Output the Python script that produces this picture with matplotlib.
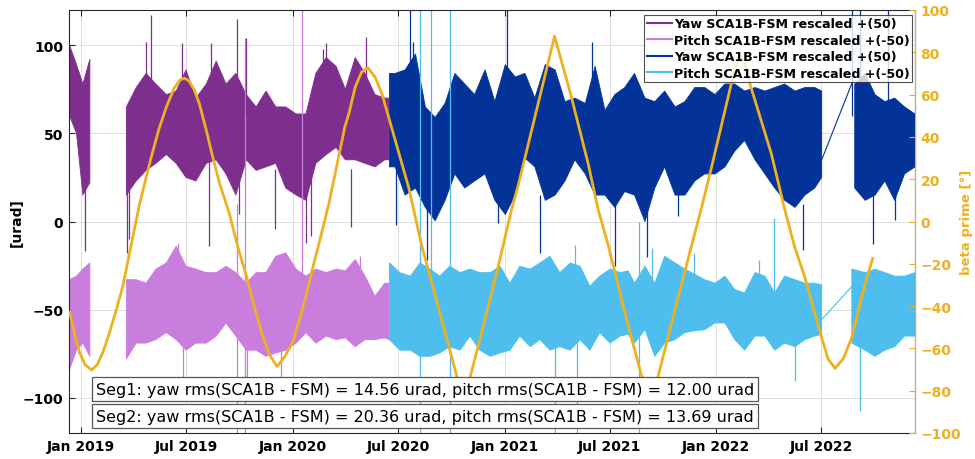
import numpy as np
import pandas as pd
import matplotlib
matplotlib.use("Agg")
import matplotlib.pyplot as plt
import matplotlib.dates as mdates
from matplotlib.lines import Line2D

nan = np.nan

# ---------------- segment 1 (purple): min/max envelope of the rescaled residuals
seg1_dates = ["2018-12-12", "2018-12-24", "2019-01-04", "2019-01-16", "2019-02-15",
              "2019-03-20", "2019-04-06", "2019-04-23", "2019-05-10", "2019-05-28",
              "2019-06-14", "2019-07-01", "2019-07-18", "2019-08-05", "2019-08-22",
              "2019-09-08", "2019-09-25", "2019-10-13", "2019-10-30", "2019-11-16",
              "2019-12-03", "2019-12-20", "2020-01-07", "2020-01-24", "2020-02-10",
              "2020-02-28", "2020-03-16", "2020-04-01", "2020-04-18", "2020-05-05",
              "2020-05-22", "2020-06-08", "2020-06-15"]
yaw1_hi = [100, 89, 78, 92, nan, 65, 76, 84, 78, 72, 74, 86, 70, 78, 91, 78, 84, 72, 65, 74,
           65, 65, 61, 61, 84, 93, 88, 75, 93, 84, 72, 70, 70]
yaw1_lo = [60, 50, 15, 22, nan, 15, 23, 29, 33, 38, 33, 25, 23, 33, 35, 27, 15, 35, 29, 31,
           33, 19, 15, 12, 33, 38, 42, 35, 35, 33, 31, 35, 35]
pitch1_hi = [-33, -31, -27, -23.5, nan, -33, -33, -35, -27, -23.5, -14, -25.4, -27, -29, -29,
             -25.4, -29, -35, -29, -29, -19.7, -17.8, -27, -31, -27, -29, -27, -28, -21.6,
             -31, -42.4, -35, -35]
pitch1_lo = [-84, -73, -69, -76.5, nan, -78, -69, -69, -67, -63, -67, -73, -69, -69, -65,
             -57.6, -65, -73, -73, -76.5, -74.6, -73, -69, -63, -69, -65, -67, -66, -71,
             -67, -67, -66, -67]

# ---------------- segment 2 (blue)
yaw2_dates = ["2020-06-16", "2020-06-26", "2020-07-13", "2020-07-31", "2020-08-17",
              "2020-09-03", "2020-09-20", "2020-10-07", "2020-10-24", "2020-11-10",
              "2020-11-28", "2020-12-15", "2021-01-02", "2021-01-19", "2021-02-05",
              "2021-02-22", "2021-03-12", "2021-03-29", "2021-04-15", "2021-05-02",
              "2021-05-20", "2021-06-06", "2021-06-23", "2021-07-10", "2021-07-27",
              "2021-08-13", "2021-08-31", "2021-09-17", "2021-10-04", "2021-10-22",
              "2021-11-08", "2021-11-25", "2021-12-12", "2021-12-30", "2022-01-16",
              "2022-02-02", "2022-02-19", "2022-03-09", "2022-03-26", "2022-04-12",
              "2022-04-29", "2022-05-17", "2022-06-03", "2022-06-20", "2022-07-02",
              "2022-07-25", "2022-08-28", "2022-09-15", "2022-10-02", "2022-10-19",
              "2022-11-05", "2022-11-22", "2022-12-10"]
yaw2_hi = [84, 84, 86, 95, 65, 59, 67, 84, 78, 72, 86, 68, 89, 82, 84, 70, 89, 86, 68, 70,
           67, 88, 63, 72, 76, 84, 70, 68, 74, 65, 68, 76, 76, 72, 78, 78, 74, 76, 74, 76,
           78, 74, 76, 76, 74, nan, 78, 84, 72, 68, 70, 65, 61]
yaw2_lo = [31, 31, 15, 19, 8, 0.4, 12, 27, 19, 23, 27, 12, 4, 15, 36, 31, 12, 15, 23, 35,
           27, 15, 15, 8, 17, 15, 0, 19, 31, 15, 15, 23, 27, 27, 31, 40, 46, 35, 27, 19,
           12, 8, 15, 19, 25, nan, 19, 12, 15, 23, 12, 27, 31]

pitch2_dates = ["2020-06-16", "2020-07-04", "2020-07-22", "2020-08-08", "2020-08-25",
                "2020-09-11", "2020-09-28", "2020-10-16", "2020-11-02", "2020-11-19",
                "2020-12-07", "2020-12-24", "2021-01-10", "2021-01-27", "2021-02-14",
                "2021-03-03", "2021-03-20", "2021-04-06", "2021-04-24", "2021-05-11",
                "2021-05-28", "2021-06-14", "2021-07-02", "2021-07-19", "2021-08-02",
                "2021-08-13", "2021-08-31", "2021-09-17", "2021-10-04", "2021-10-22",
                "2021-11-08", "2021-11-25", "2021-12-12", "2021-12-30", "2022-01-16",
                "2022-02-02", "2022-02-19", "2022-03-09", "2022-03-26", "2022-04-12",
                "2022-04-29", "2022-05-17", "2022-06-03", "2022-06-20", "2022-07-02",
                "2022-07-25", "2022-08-23", "2022-09-15", "2022-10-02", "2022-10-19",
                "2022-11-05", "2022-11-22", "2022-12-10"]
pitch2_hi = [-23.5, -29, -31, -23.5, -27, -31, -25.4, -29, -27, -29, -29, -25.4, -35, -25.4,
             -27, -23.5, -19.7, -29, -23.5, -25.4, -36.7, -31, -27, -29, -28, -35, -25.4,
             -35, -19.7, -23.5, -27, -30, -33, -35, -31, -38.6, -40.5, -29, -31, -40.5, -31,
             -33, -35, -35, -36, nan, -27, -29, -27, -29, -31, -31, -29]
pitch2_lo = [-67, -73, -73, -76.5, -76.5, -74.6, -71, -73, -65, -73, -76.5, -74.6, -73, -65,
             -71, -67, -73, -71, -73, -67, -73, -63, -69, -65, -64, -69, -61.4, -76.5, -69,
             -67, -63, -62, -61.4, -57.6, -57.6, -67, -73, -65, -65, -73, -69, -71, -67,
             -65, -64, nan, -69, -73, -76.5, -73, -71, -65, -65]

# samples joined across the mid-2022 data gap
yaw2_gap_dates = ["2022-07-02", "2022-08-25"]
yaw2_gap_vals = [35, 80]
pitch2_gap_dates = ["2022-07-02", "2022-08-23"]
pitch2_gap_vals = [-55.7, -36.8]

# isolated outliers: (date, from, to)
yaw1_spikes = [("2019-01-07", -17, 20), ("2019-03-21", -18, 40), ("2019-03-25", -10, 40),
               ("2019-04-23", 60, 102), ("2019-05-02", 60, 117), ("2019-06-24", 60, 101),
               ("2019-08-10", -14, 40), ("2019-08-13", 60, 101), ("2019-09-27", 60, 115),
               ("2019-10-01", 4, 30), ("2019-10-13", 60, 104), ("2019-12-01", -4, 30),
               ("2020-01-24", -12, 20), ("2020-02-02", -8, 30), ("2020-02-22", 60, 98),
               ("2020-02-28", 60, 101), ("2020-04-11", -3, 30), ("2020-05-07", 60, 104.5)]
yaw2_spikes = [("2020-06-28", -2, 30), ("2020-07-22", 60, 125), ("2020-07-27", 60, 102),
               ("2020-08-19", -22, 10), ("2020-12-21", -1, 20), ("2021-01-05", 60, 125),
               ("2021-03-03", -18, 15), ("2021-05-31", 60, 102), ("2021-07-10", -25, 10),
               ("2021-09-03", -20, 10), ("2021-10-27", 3, 20), ("2022-05-31", -16, 10),
               ("2022-08-24", 60, 125), ("2022-09-06", 60, 125), ("2022-09-29", -13, 15),
               ("2022-10-25", 60, 125), ("2022-11-05", 1, 15)]
pitch1_spikes = [("2019-06-17", -40, -12), ("2019-06-25", -88, -60), ("2019-09-27", -125, 10),
                 ("2019-10-11", -125, 104), ("2019-10-15", -95.5, -60),
                 ("2019-12-12", -91.6, -60), ("2020-01-17", -60, 125), ("2020-04-26", -40, -19.7)]
pitch2_spikes = [("2020-08-08", -125, 125), ("2020-08-27", -40, 125), ("2020-09-29", -125, 125),
                 ("2021-03-29", -125, -60), ("2021-05-02", -40, -13.2), ("2021-05-05", -125, -60),
                 ("2021-08-20", -125, 0), ("2021-09-12", -40, -15), ("2021-11-24", -40, -17.8),
                 ("2022-03-16", -40, -21.6), ("2022-04-11", -60, 2), ("2022-05-17", -90.7, -60),
                 ("2022-09-06", -107.8, -60)]

# ---------------- beta prime angle [deg]
beta_dates = ["2018-12-12", "2018-12-21", "2018-12-29", "2019-01-08", "2019-01-19",
              "2019-01-29", "2019-02-08", "2019-02-19", "2019-03-03", "2019-03-14",
              "2019-03-25", "2019-04-03", "2019-04-12", "2019-04-22", "2019-05-02",
              "2019-05-15", "2019-05-28", "2019-06-10", "2019-06-20", "2019-06-28",
              "2019-07-06", "2019-07-15", "2019-07-24", "2019-08-05", "2019-08-16",
              "2019-08-28", "2019-09-14", "2019-09-28", "2019-10-13", "2019-10-27",
              "2019-11-10", "2019-11-22", "2019-12-05", "2019-12-18", "2020-01-01",
              "2020-01-13", "2020-01-24", "2020-02-05", "2020-02-16", "2020-03-04",
              "2020-03-31", "2020-04-07", "2020-04-18", "2020-04-29", "2020-05-10",
              "2020-05-22", "2020-06-03", "2020-06-14", "2020-06-26", "2020-07-19",
              "2020-08-11", "2020-09-14", "2020-10-10", "2020-10-16", "2020-10-22",
              "2020-10-28", "2020-11-03", "2020-11-28", "2020-12-21", "2021-01-13",
              "2021-01-25", "2021-02-22", "2021-03-28", "2021-04-26", "2021-05-25",
              "2021-06-11", "2021-06-29", "2021-07-30", "2021-08-25", "2021-09-02",
              "2021-09-09", "2021-09-16", "2021-09-23", "2021-10-22", "2021-11-20",
              "2021-12-06", "2021-12-24", "2022-01-27", "2022-02-04", "2022-02-12",
              "2022-02-20", "2022-02-28", "2022-04-06", "2022-04-29", "2022-05-16",
              "2022-06-02", "2022-07-01", "2022-07-13", "2022-07-25", "2022-08-08",
              "2022-08-22", "2022-09-14", "2022-09-28"]
beta_vals = [-42.9, -53.5, -61.8, -67.8, -70.2, -67.6, -61.5, -52.4, -41.4, -30.4,
             -15.5, -3.5, 8.5, 19.5, 30.5, 43.5, 54.1, 62.8, 66.8, 67.8,
             66.5, 62.3, 55.7, 43.1, 30.5, 17.9, 3.5, -11.7, -25.6, -40.5,
             -54.0, -63.0, -68.5, -64.0, -57.1, -46.1, -35.1, -21.5, -9.8, 9.0,
             44.7, 51.0, 63.6, 70.7, 72.7, 68.3, 60.4, 50.0, 38.4, 16.3,
             -11.7, -46.1, -72.9, -77.6, -79.5, -77.6, -72.9, -46.1, -20.9, 5.9,
             17.9, 49.4, 87.6, 58.9, 27.3, 5.9, -11.7, -46.0, -72.9, -76.5,
             -78.0, -76.5, -72.9, -41.4, -10.8, 5.9, 25.8, 65.2, 74.0, 78.0,
             74.0, 65.2, 32.1, 5.9, -11.7, -25.6, -54.0, -65.0, -69.4, -65.0,
             -55.6, -30.4, -17.4]

xticks = ["2019-01-01", "2019-07-01", "2020-01-01", "2020-07-01",
          "2021-01-01", "2021-07-01", "2022-01-01", "2022-07-01"]
legend_labels = ["Yaw SCA1B-FSM rescaled +(50)", "Pitch SCA1B-FSM rescaled +(-50)",
                 "Yaw SCA1B-FSM rescaled +(50)", "Pitch SCA1B-FSM rescaled +(-50)"]
seg_texts = ["Seg1: yaw rms(SCA1B - FSM) = 14.56 urad, pitch rms(SCA1B - FSM) = 12.00 urad",
             "Seg2: yaw rms(SCA1B - FSM) = 20.36 urad, pitch rms(SCA1B - FSM) = 13.69 urad"]

C_YAW1 = "#7e2f8e"
C_PITCH1 = "#c97ddd"
C_YAW2 = "#033399"
C_PITCH2 = "#4dbeee"
C_BETA = "#edb120"
C_AX = "#262626"

plt.rcParams["font.family"] = ["DejaVu Sans"]
fig = plt.figure(figsize=(9.75, 4.6), dpi=100)
ax = fig.add_axes([69 / 975, 1 - 434 / 460, 846 / 975, 423 / 460])


def band(a, dates, lo, hi, color):
    d = pd.to_datetime(dates)
    lo = np.asarray(lo, float)
    hi = np.asarray(hi, float)
    a.fill_between(d, lo, hi, color=color, lw=0.6, edgecolor=color, zorder=2)


def spikes(a, items, color):
    d = pd.to_datetime([s[0] for s in items])
    a.vlines(d, [s[1] for s in items], [s[2] for s in items], color=color, lw=0.9, zorder=2)


band(ax, seg1_dates, yaw1_lo, yaw1_hi, C_YAW1)
band(ax, seg1_dates, pitch1_lo, pitch1_hi, C_PITCH1)
band(ax, yaw2_dates, yaw2_lo, yaw2_hi, C_YAW2)
band(ax, pitch2_dates, pitch2_lo, pitch2_hi, C_PITCH2)
ax.plot(pd.to_datetime(yaw2_gap_dates), yaw2_gap_vals, color=C_YAW2, lw=0.8, zorder=2)
ax.plot(pd.to_datetime(pitch2_gap_dates), pitch2_gap_vals, color=C_PITCH2, lw=0.8, zorder=2)
spikes(ax, pitch1_spikes, C_PITCH1)
spikes(ax, pitch2_spikes, C_PITCH2)
spikes(ax, yaw1_spikes, C_YAW1)
spikes(ax, yaw2_spikes, C_YAW2)

ax.set_xlim(pd.Timestamp("2018-12-11"), pd.Timestamp("2022-12-10"))
ax.set_ylim(-120, 120)
ax.set_yticks([-100, -50, 0, 50, 100])
ax.set_xticks(pd.to_datetime(xticks))
ax.xaxis.set_major_formatter(mdates.DateFormatter("%b %Y"))
ax.grid(True, color="#dfdfdf", lw=0.7)
ax.set_axisbelow(True)
ax.tick_params(axis="both", direction="in", length=4, color=C_AX, labelsize=10,
               top=True, pad=4)
for lab in ax.get_xticklabels() + ax.get_yticklabels():
    lab.set_fontweight("bold")
for s in ("left", "bottom", "top"):
    ax.spines[s].set_color(C_AX)
    ax.spines[s].set_linewidth(0.8)
ax.set_ylabel("[urad]", fontweight="bold", fontsize=10, labelpad=-1)

ax2 = ax.twinx()
ax2.plot(pd.to_datetime(beta_dates), beta_vals, color=C_BETA, lw=2.0, zorder=3,
         solid_joinstyle="round")
ax2.set_ylim(-100, 100)
ax2.set_yticks(np.arange(-100, 101, 20))
ax2.tick_params(axis="y", direction="in", length=4, colors=C_BETA, labelsize=10, pad=4)
for lab in ax2.get_yticklabels():
    lab.set_fontweight("bold")
ax2.spines["right"].set_color(C_BETA)
ax2.spines["left"].set_visible(False)
ax2.spines["top"].set_visible(False)
ax2.spines["bottom"].set_visible(False)
ax2.set_ylabel("beta prime [°]", color=C_BETA, fontweight="bold", fontsize=9.5, labelpad=-1)

handles = [Line2D([], [], color=c, lw=1.5) for c in (C_YAW1, C_PITCH1, C_YAW2, C_PITCH2)]
leg = ax2.legend(handles, legend_labels, loc="upper right", bbox_to_anchor=(0.997, 0.989),
                 borderaxespad=0, frameon=True, fancybox=False, handlelength=2.0,
                 handletextpad=0.15, labelspacing=0.28, borderpad=0.2,
                 prop={"weight": "bold", "size": 9.1})
leg.get_frame().set_edgecolor(C_AX)
leg.get_frame().set_linewidth(0.8)
leg.set_zorder(10)

for y, txt in zip((0.104, 0.040), seg_texts):
    ax2.text(0.032, y, txt, transform=ax2.transAxes, fontsize=11.5, va="center", ha="left",
             zorder=9, bbox=dict(boxstyle="square,pad=0.26", fc="white", ec="#555555", lw=0.9))

fig.savefig("out.png", dpi=100)
